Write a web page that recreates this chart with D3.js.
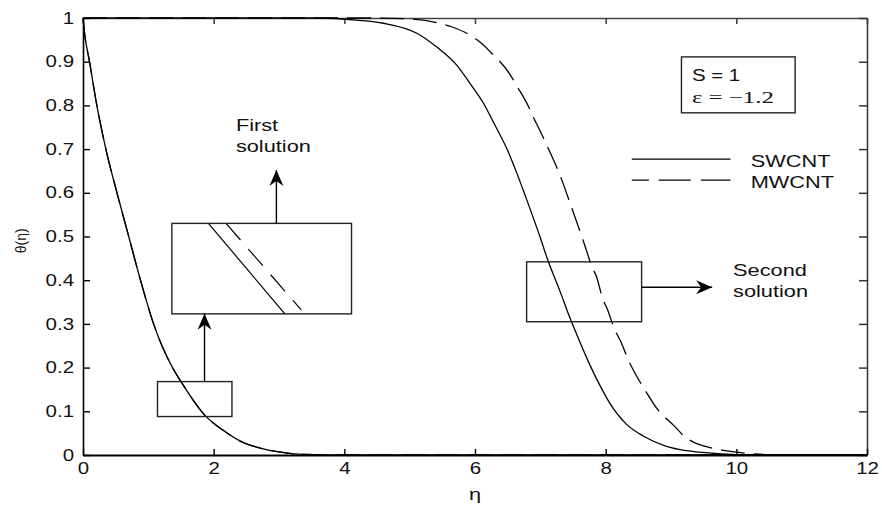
<!DOCTYPE html>
<html>

<head>
    <meta charset='utf-8' />
    <title>Temperature profiles, first and second solution</title>
    <script charset="utf-8" src="https://d3js.org/d3.v7.min.js"></script>
    <style>
        body {
            margin: 0;
            background: #fff;
        }

        svg text {
            font-family: 'Liberation Sans', Arial, sans-serif;
            fill: #111;
        }
    </style>
</head>

<body>
    <div id="chartContainer"></div>
</body>

<script>
    // values (eta, theta)
    var xTicks = [0, 2, 4, 6, 8, 10, 12]
    var yTicks = [0, 0.1, 0.2, 0.3, 0.4, 0.5, 0.6, 0.7, 0.8, 0.9, 1]

    // first solution - SWCNT and MWCNT lie on top of each other
    var firstEta = [0, 0.02, 0.1, 0.2, 0.35, 0.52, 0.7, 0.88, 1.08, 1.37, 1.5, 1.87, 2.14, 2.43, 2.71, 3.0, 3.3, 4, 12]
    var firstTheta = [1, 0.97, 0.9, 0.81, 0.7, 0.6, 0.5, 0.4, 0.3, 0.2, 0.168, 0.09, 0.057, 0.03, 0.016, 0.007, 0.002, 0, 0]

    // second solution, SWCNT
    var swEta = [0, 3.6, 4.19, 4.6, 5.11, 5.41, 5.72, 5.92, 6.13, 6.28, 6.49, 6.64, 6.77, 7.0, 7.1, 7.3, 7.45, 7.61, 7.74, 7.91, 8.07, 8.32, 8.58, 8.93, 9.24, 9.64, 10.0, 12]
    var swTheta = [1, 1, 0.995, 0.988, 0.965, 0.934, 0.892, 0.851, 0.805, 0.762, 0.70, 0.645, 0.593, 0.497, 0.452, 0.375, 0.315, 0.257, 0.212, 0.16, 0.117, 0.07, 0.043, 0.02, 0.01, 0.004, 0.001, 0]

    // second solution, MWCNT
    var mwEta = [0, 4.4, 5.0, 5.46, 5.64, 6.1, 6.23, 6.54, 6.63, 6.82, 6.89, 7.05, 7.12, 7.28, 7.33, 7.43, 7.68, 7.79, 7.86, 7.96, 8.02, 8.14, 8.22, 8.37, 8.45, 8.65, 8.76, 9.06, 9.21, 9.65, 9.83, 10.16, 10.5, 12]
    var mwTheta = [1, 1, 0.998, 0.988, 0.98, 0.942, 0.923, 0.87, 0.847, 0.797, 0.774, 0.725, 0.702, 0.648, 0.629, 0.587, 0.48, 0.431, 0.408, 0.355, 0.336, 0.286, 0.263, 0.21, 0.187, 0.137, 0.111, 0.065, 0.042, 0.015, 0.01, 0.004, 0.001, 0]

    // annotation boxes [eta0, eta1, theta0, theta1]
    var zoomBoxes = [
        [1.14, 2.28, 0.088, 0.168],
        [1.36, 4.11, 0.323, 0.530],
        [6.79, 8.55, 0.305, 0.442]
    ]
    // arrows [eta0, theta0, eta1, theta1]
    var arrows = [
        [1.86, 0.168, 1.86, 0.323],
        [2.96, 0.530, 2.96, 0.652],
        [8.55, 0.384, 9.63, 0.384]
    ]
    // the two magnified lines inside the big box
    var insetSolid = [[1.92, 0.530], [3.09, 0.323]]
    var insetDashed = [[2.19, 0.530], [3.34, 0.332]]

    var width = 882
    var height = 507
    var margin = { top: 18, right: 15, bottom: 52, left: 83 }
    var stretch = 1.28  // the picture's text is wide

    var svg = d3.select("#chartContainer").append("svg")
        .attr("width", width)
        .attr("height", height)

    var x = d3.scaleLinear().domain([0, 12]).range([margin.left, width - margin.right])
    var y = d3.scaleLinear().domain([0, 1]).range([height - margin.bottom, margin.top])

    // frame: top and right
    svg.append("g")
        .attr("transform", "translate(0," + margin.top + ")")
        .call(d3.axisTop(x).tickValues(xTicks).tickSize(-6).tickSizeOuter(0).tickFormat(""))
        .call(function (g) { g.selectAll("path,line").attr("stroke", "#444").attr("stroke-width", 1.6) })

    svg.append("g")
        .attr("transform", "translate(" + (width - margin.right) + ",0)")
        .call(d3.axisRight(y).tickValues(yTicks).tickSize(-8).tickSizeOuter(0).tickFormat(""))
        .call(function (g) { g.selectAll("path,line").attr("stroke", "#333").attr("stroke-width", 1.5) })

    // bottom and left axes
    var xAxis = svg.append("g")
        .attr("transform", "translate(0," + y(0) + ")")
        .call(d3.axisBottom(x).tickValues(xTicks).tickSize(-6).tickSizeOuter(0).tickPadding(8))
    xAxis.select("path").attr("stroke", "#000").attr("stroke-width", 2)
    xAxis.selectAll("line").attr("stroke", "#000").attr("stroke-width", 1.4)

    var yAxis = svg.append("g")
        .attr("transform", "translate(" + x(0) + ",0)")
        .call(d3.axisLeft(y).tickValues(yTicks).tickSize(-7).tickSizeOuter(0).tickPadding(7)
            .tickFormat(d3.format("~g")))
    yAxis.select("path").attr("stroke", "#000").attr("stroke-width", 1.6)
    yAxis.selectAll("line").attr("stroke", "#000").attr("stroke-width", 1.4)

    svg.selectAll(".tick text")
        .attr("font-size", 16)
        .attr("font-family", "'Liberation Sans', Arial, sans-serif")
        .attr("fill", "#111")
        .attr("transform", "scale(" + stretch + ",1)")

    // text helper, every label gets the same horizontal stretch
    function label(px, py, str, size, anchor, family) {
        return svg.append("text")
            .attr("transform", "translate(" + px + "," + py + ") scale(" + stretch + ",1)")
            .attr("font-size", size)
            .attr("text-anchor", anchor || "start")
            .style("font-family", family || null)
            .text(str)
    }

    // axis titles
    label(x(6), 500, "η", 17, "middle")
    svg.append("text")
        .attr("transform", "translate(26," + y(0.49) + ") rotate(-90)")
        .attr("font-size", 14)
        .attr("text-anchor", "middle")
        .text("θ(η)")

    // curves
    var line = d3.line()
        .x(function (d) { return x(d[0]) })
        .y(function (d) { return y(d[1]) })
        .curve(d3.curveMonotoneX)

    function pairs(a, b) { return a.map(function (v, i) { return [v, b[i]] }) }

    var curves = svg.append("g").attr("fill", "none").attr("stroke", "#000").attr("stroke-width", 1.3)

    curves.append("path").attr("d", line(pairs(firstEta, firstTheta)))
    curves.append("path").attr("d", line(pairs(firstEta, firstTheta))).attr("stroke-dasharray", "24,9")
    curves.append("path").attr("d", line(pairs(swEta, swTheta)))
    curves.append("path").attr("d", line(pairs(mwEta, mwTheta))).attr("stroke-dasharray", "24,9")

    // boxes (open, the curves show through)
    svg.append("g").selectAll("rect")
        .data(zoomBoxes)
        .enter()
        .append("rect")
        .attr("x", function (d) { return x(d[0]) })
        .attr("y", function (d) { return y(d[3]) })
        .attr("width", function (d) { return x(d[1]) - x(d[0]) })
        .attr("height", function (d) { return y(d[2]) - y(d[3]) })
        .attr("fill", "none")
        .attr("stroke", "#222")
        .attr("stroke-width", 1.4)

    // inset lines inside the big box
    var plain = d3.line().x(function (d) { return x(d[0]) }).y(function (d) { return y(d[1]) })
    svg.append("path").attr("d", plain(insetSolid))
        .attr("fill", "none").attr("stroke", "#000").attr("stroke-width", 1.2)
    svg.append("path").attr("d", plain(insetDashed))
        .attr("fill", "none").attr("stroke", "#000").attr("stroke-width", 1.2)
        .attr("stroke-dasharray", "22,12")

    // arrows with a filled notched head
    arrows.forEach(function (a) {
        var x0 = x(a[0]), y0 = y(a[1]), x1 = x(a[2]), y1 = y(a[3])
        var ang = Math.atan2(y1 - y0, x1 - x0)
        svg.append("line")
            .attr("x1", x0).attr("y1", y0).attr("x2", x1).attr("y2", y1)
            .attr("stroke", "#000").attr("stroke-width", 1.4)
        svg.append("path")
            .attr("d", "M0,0 L-16,-7 L-11,0 L-16,7 Z")
            .attr("transform", "translate(" + x1 + "," + y1 + ") rotate(" + (ang * 180 / Math.PI) + ")")
            .attr("fill", "#000")
    })

    // annotation texts
    label(x(2.34), y(0.742), "First", 17)
    label(x(2.34), y(0.693), "solution", 17)
    label(x(9.95), y(0.41), "Second", 17)
    label(x(9.95), y(0.362), "solution", 17)

    // parameter box
    svg.append("rect")
        .attr("x", x(9.16)).attr("y", y(0.911))
        .attr("width", x(10.9) - x(9.16)).attr("height", y(0.783) - y(0.911))
        .attr("fill", "none").attr("stroke", "#222").attr("stroke-width", 1.4)
    label(x(9.32), y(0.856), "S = 1", 16)
    label(x(9.32), y(0.805), "ε = −1.2", 17, "start", "'Liberation Serif', 'Times New Roman', serif")
        .attr("textLength", 64).attr("lengthAdjust", "spacingAndGlyphs")

    // legend
    svg.append("line")
        .attr("x1", x(8.4)).attr("x2", x(9.91)).attr("y1", y(0.677)).attr("y2", y(0.677))
        .attr("stroke", "#000").attr("stroke-width", 1.3)
    svg.append("line")
        .attr("x1", x(8.4)).attr("x2", x(9.91)).attr("y1", y(0.629)).attr("y2", y(0.629))
        .attr("stroke", "#000").attr("stroke-width", 1.3)
        .attr("stroke-dasharray", "17,10,32,10,32")
    label(x(10.22), y(0.659), "SWCNT", 17)
    label(x(10.22), y(0.611), "MWCNT", 17)
</script>

</html>
